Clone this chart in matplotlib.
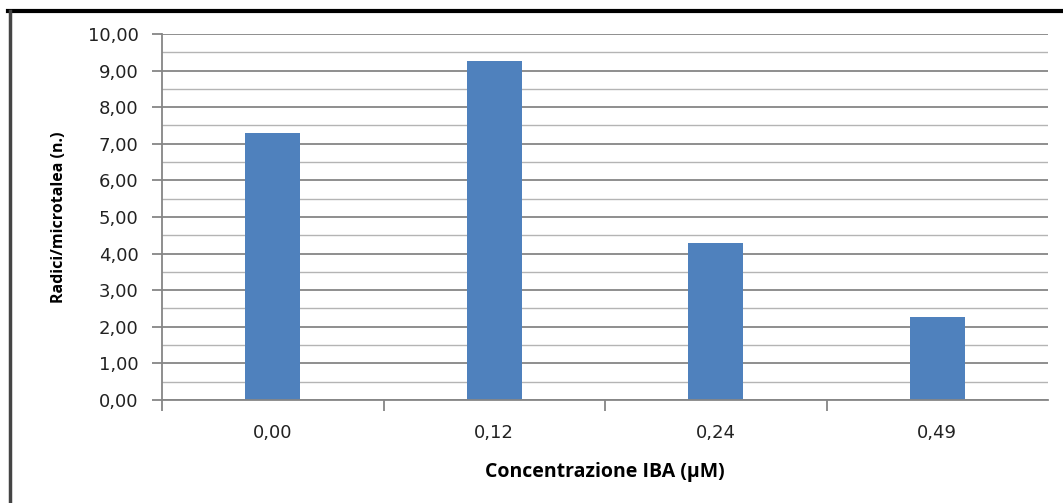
import matplotlib.pyplot as plt
from matplotlib.lines import Line2D
from matplotlib.ticker import MultipleLocator, FuncFormatter
import numpy as np

# concentrazioni IBA e radici medie per microtalea
concentrazioni = ["0,00", "0,12", "0,24", "0,49"]
radici = [7.30, 9.27, 4.29, 2.28]

fig = plt.figure(figsize=(10.63, 5.03), dpi=100)
ax = fig.add_axes([0.1524, 0.2048, 0.8335, 0.7276])

x = np.arange(len(concentrazioni))
ax.bar(x, radici, width=0.25, color="#4f81bd", zorder=3)

# griglia principale e secondaria come in Excel
ax.set_ylim(0, 10)
ax.set_xlim(-0.5, len(concentrazioni) - 0.5)
ax.yaxis.set_major_locator(MultipleLocator(1))
ax.yaxis.set_minor_locator(MultipleLocator(0.5))
ax.yaxis.set_major_formatter(FuncFormatter(lambda v, p: f"{v:.2f}".replace(".", ",")))
ax.grid(axis="y", which="major", color="#868686", lw=1.3, zorder=0)
ax.grid(axis="y", which="minor", color="#b4b4b4", lw=1.0, zorder=0)

ax.set_xticks(x)
ax.set_xticklabels(concentrazioni)
ax.set_xticks(np.arange(-0.5, len(concentrazioni) - 1), minor=True)
ax.tick_params(axis="x", which="major", length=0, pad=17, labelsize=13, labelcolor="#222222")
ax.tick_params(axis="x", which="minor", length=8, width=1.3, color="#868686")
ax.tick_params(axis="y", which="major", length=7, width=1.3, color="#868686", pad=10,
               labelsize=13, labelcolor="#222222")
ax.tick_params(axis="y", which="minor", length=0)

for s in ["top", "right"]:
    ax.spines[s].set_visible(False)
for s in ["left", "bottom"]:
    ax.spines[s].set_color("#868686")
    ax.spines[s].set_linewidth(1.3)
    ax.spines[s].set_zorder(4)

ax.set_xlabel("Concentrazione IBA (µM)", fontsize=14, fontweight="bold",
              family=["Open Sans", "DejaVu Sans"], labelpad=15)
ax.set_ylabel("Radici/microtalea (n.)", fontsize=11.5, fontweight="bold",
              family=["Open Sans", "DejaVu Sans"], labelpad=15)

# cornice del grafico (lato superiore e sinistro)
fig.add_artist(Line2D([8 / 1063, 1], [1 - 11 / 503, 1 - 11 / 503], color="black", lw=3,
                      transform=fig.transFigure))
fig.add_artist(Line2D([9.5 / 1063, 9.5 / 1063], [0, 1 - 11 / 503], color="#444444", lw=2.5,
                      transform=fig.transFigure))

fig.savefig("out.png", dpi=100)
